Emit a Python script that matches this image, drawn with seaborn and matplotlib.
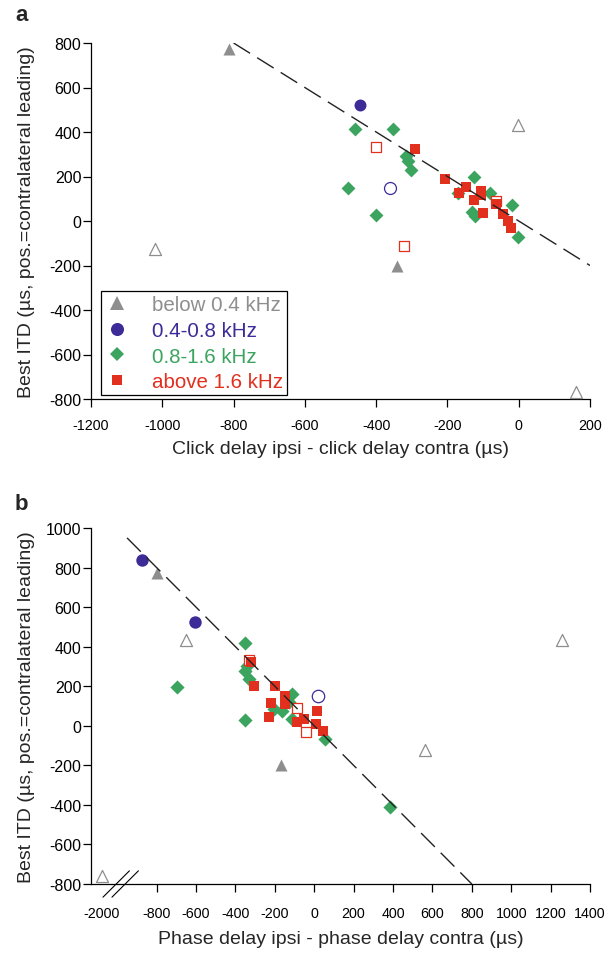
import numpy as np
import pandas as pd
import matplotlib.pyplot as plt
import seaborn as sns
from matplotlib.lines import Line2D

# ---- data (µs) ----
bands = ['below 0.4 kHz', '0.4-0.8 kHz', '0.8-1.6 kHz', 'above 1.6 kHz']
band_colors = ['#8e8e8e', '#3d2b98', '#3ba45f', '#e2301f']
band_markers = ['^', 'o', 'D', 's']

# panel a: click delay difference vs best ITD
click_x = [-812, -341, -1021, -1, 160,
           -446, -361,
           -459, -354, -480, -401, -315, -312, -303, -126, -170, -123, -81, -20, -2, -130,
           -292, -208, -167, -147, -105, -105, -126, -100, -63, -44, -30, -23, -400, -321, -63]
click_itd = [771, -203, -124, 433, -770,
             522, 149,
             414, 414, 150, 29, 293, 271, 230, 196, 125, 23, 128, 71, -70, 40,
             323, 191, 128, 151, 135, 115, 95, 38, 75, 30, 0, -30, 331, -113, 90]
click_band = [bands[0]] * 5 + [bands[1]] * 2 + [bands[2]] * 14 + [bands[3]] * 15
click_open = [0, 0, 1, 1, 1, 0, 1] + [0] * 14 + [0] * 12 + [1] * 3

# panel b: phase delay difference vs best ITD
phase_x = [-799, -166, -653, 1258, 561, -2000,
           -872, -604, 18,
           -694, -352, -349, -333, -340, -349, -112, -163, -205, -112, 57, 383, -130,
           -319, -307, -200, -146, -146, -217, -231, 15, -86, -53, 7, 44, -329, -88, -44]
phase_itd = [771, -199, 435, 435, -121, -762,
             838, 523, 152,
             194, 418, 278, 236, 300, 30, 160, 76, 85, 34, -67, -413, 120,
             324, 199, 199, 152, 110, 115, 42, 76, 17, 34, 9, -25, 334, 88, -33]
phase_band = [bands[0]] * 6 + [bands[1]] * 3 + [bands[2]] * 13 + [bands[3]] * 15
phase_open = [0, 0, 1, 1, 1, 1, 0, 0, 1] + [0] * 13 + [0] * 12 + [1] * 3

# identity lines (ITD = -delay difference)
diag_a_x = [-800, 200]
diag_b_x = [-950, 800]

a_xticks = list(range(-1200, 201, 200))
a_yticks = list(range(-800, 801, 200))
b_xticks = [-2000] + list(range(-800, 1401, 200))
b_yticks = list(range(-800, 1001, 200))

# ---- style ----
sns.set_style('ticks')
plt.rcParams['font.family'] = ['Liberation Sans', 'DejaVu Sans']
plt.rcParams['axes.unicode_minus'] = False

W, H = 614, 954
fig = plt.figure(figsize=(W / 100, H / 100), dpi=100)
ax_a = fig.add_axes([91 / W, 1 - 400 / H, 499 / W, 356 / H])
ax_b = fig.add_axes([91 / W, 1 - 885 / H, 499 / W, 356 / H])

# broken x axis for panel b: squeeze everything left of the break
BREAK, SQUEEZE = -1000.0, 0.078


def fwd(x):
    x = np.asarray(x, dtype=float)
    return np.where(x >= BREAK, x, BREAK + (x - BREAK) * SQUEEZE)


def inv(y):
    y = np.asarray(y, dtype=float)
    return np.where(y >= BREAK, y, BREAK + (y - BREAK) / SQUEEZE)


ax_b.set_xscale('function', functions=(fwd, inv))


def draw_points(ax, xs, ys, band, hollow, sizes):
    df = pd.DataFrame({'x': xs, 'y': ys, 'band': band, 'hollow': hollow})
    for b, col, mk in zip(bands, band_colors, band_markers):
        for h in (1, 0):
            sub = df[(df['band'] == b) & (df['hollow'] == h)]
            if sub.empty:
                continue
            if h:
                sns.scatterplot(data=sub, x='x', y='y', ax=ax, marker=mk, s=sizes[mk],
                                color=col, facecolor='white', edgecolor=col,
                                linewidth=0.9, legend=False, zorder=3, clip_on=False)
            else:
                sns.scatterplot(data=sub, x='x', y='y', ax=ax, marker=mk, s=sizes[mk],
                                color=col, edgecolor=col, linewidth=0,
                                legend=False, zorder=3, clip_on=False)


draw_points(ax_a, click_x, click_itd, click_band, click_open,
            {'^': 75, 'o': 74, 'D': 50, 's': 52})
draw_points(ax_b, phase_x, phase_itd, phase_band, phase_open,
            {'^': 75, 'o': 80, 'D': 52, 's': 62})

for ax, dx in ((ax_a, diag_a_x), (ax_b, diag_b_x)):
    sns.lineplot(x=dx, y=[-v for v in dx], ax=ax, color='#222222', lw=1.0,
                 dashes=(14, 6), zorder=4)

# ---- axes ----
ax_a.set_xlim(-1200, 200)
ax_a.set_ylim(-800, 800)
ax_a.set_xticks(a_xticks)
ax_a.set_xticklabels([str(t) for t in a_xticks])
ax_a.set_yticks(a_yticks)
ax_a.set_yticklabels([str(t) for t in a_yticks])

ax_b.set_xlim(float(inv(-1133)), 1400)
ax_b.set_ylim(-800, 1000)
ax_b.set_xticks(b_xticks)
ax_b.set_xticklabels([str(t) for t in b_xticks])
ax_b.set_yticks(b_yticks)
ax_b.set_yticklabels([str(t) for t in b_yticks])
ax_b.xaxis.get_major_ticks()[0].tick1line.set_visible(False)

ylabel = 'Best ITD (µs, pos.=contralateral leading)'
ax_a.set_xlabel('Click delay ipsi - click delay contra (µs)', fontsize=14)
ax_b.set_xlabel('Phase delay ipsi - phase delay contra (µs)', fontsize=14)
for ax in (ax_a, ax_b):
    ax.set_ylabel(ylabel, fontsize=14)
    sns.despine(ax=ax)
    for sp in ('left', 'bottom'):
        ax.spines[sp].set_linewidth(0.9)
        ax.spines[sp].set_color('black')
    ax.tick_params(direction='out', length=6, width=0.9, color='black',
                   labelsize=10.3, labelcolor='black')
    ax.tick_params(axis='y', pad=1, labelsize=11.5)
    ax.yaxis.set_label_coords(-0.113, 0.5)
ax_a.tick_params(axis='x', pad=8)
ax_b.tick_params(axis='x', pad=10)
ax_a.xaxis.set_label_coords(0.5, -0.114)
ax_b.xaxis.set_label_coords(0.5, -0.129)

# axis break marks
for x0 in (0.024, 0.042):
    ax_b.plot([x0, x0 + 0.053], [-0.037, 0.037], transform=ax_b.transAxes,
              color='black', lw=0.8, clip_on=False)

# legend
handles = [Line2D([], [], ls='none', marker=mk, color=col, markeredgewidth=0,
                  markersize=ms)
           for mk, col, ms in zip(band_markers, band_colors, [9.4, 9.4, 6.8, 7.2])]
leg = ax_a.legend(handles, bands, loc='lower left', bbox_to_anchor=(0.02, 0.011),
                  borderaxespad=0, fontsize=14.8, frameon=True, fancybox=False,
                  framealpha=1, edgecolor='black', handlelength=1.2,
                  handletextpad=1.1, borderpad=0.18, labelspacing=0.33,
                  labelcolor='markerfacecolor')
leg.get_frame().set_linewidth(0.9)

fig.text(15 / W, 1 - 5 / H, 'a', fontsize=16, fontweight='bold', va='top')
fig.text(15 / W, 1 - 494 / H, 'b', fontsize=16, fontweight='bold', va='top')

fig.savefig('out.png', dpi=100)
